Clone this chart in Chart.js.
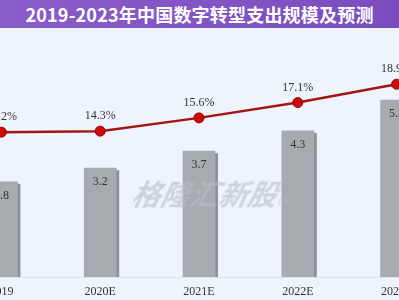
<!DOCTYPE html>
<html>
<head>
<meta charset="utf-8">
<script src="https://cdn.jsdelivr.net/npm/chart.js@4.4.0/dist/chart.umd.min.js"></script>
<style>
  html, body { margin:0; padding:0; }
  body { width:399px; height:300px; overflow:hidden; background:#eef4fb; position:relative; }
  #title { position:absolute; left:0; top:0; width:399px; height:28px; line-height:28px;
    background:linear-gradient(90deg,#8b5dc9,#7b4cbf); color:#fff; text-align:center;
    font-family:"Noto Sans CJK SC","Noto Sans",sans-serif; font-weight:bold; font-size:18px; z-index:3; letter-spacing:0.2px; }
  #wrap { position:absolute; left:-48px; top:0; width:494px; height:300px; }
  #wm { position:absolute; left:133px; top:171px; z-index:2; pointer-events:none;
    font-family:"Noto Sans CJK SC",sans-serif; font-weight:bold; font-style:italic; font-size:29px;
    color:rgba(185,190,197,0.6); white-space:nowrap; transform:skewX(-12deg); }
  #wm span { font-size:9px; font-style:normal; font-weight:normal; margin-left:2px; }
</style>
</head>
<body>
<div id="title">2019-2023年中国数字转型支出规模及预测</div>
<div id="wrap"><canvas id="c"></canvas></div>
<div id="wm">格隆汇新股<span>IPO</span></div>
<script>
const categories = ["2019", "2020E", "2021E", "2022E", "2023E"];
const spending = [2.8, 3.2, 3.7, 4.3, 5.2];
const shareRate = [14.2, 14.3, 15.6, 17.1, 18.9];
const rateLabels = ["14.2%", "14.3%", "15.6%", "17.1%", "18.9%"];

const shadowPlugin = {
  id: 'barShadow',
  beforeDatasetDraw(chart, args) {
    if (args.index !== 0) return;
    const meta = chart.getDatasetMeta(0);
    const ctx = chart.ctx;
    ctx.save();
    ctx.fillStyle = '#8d9095';
    meta.data.forEach(el => {
      const w = el.width;
      ctx.fillRect(el.x - w / 2 + 3, el.y + 2, w, el.base - el.y - 2);
    });
    ctx.restore();
  }
};

const labelPlugin = {
  id: 'valLabels',
  afterDatasetsDraw(chart) {
    const ctx = chart.ctx;
    ctx.save();
    ctx.font = '12px "Liberation Serif", serif';
    ctx.fillStyle = '#333';
    ctx.textAlign = 'center';
    ctx.textBaseline = 'middle';
    chart.getDatasetMeta(0).data.forEach((el, i) => {
      ctx.fillText(spending[i].toFixed(1), el.x, el.y + 14);
    });
    chart.getDatasetMeta(1).data.forEach((el, i) => {
      ctx.fillText(rateLabels[i], el.x, el.y - 15);
    });
    ctx.restore();
  }
};

new Chart(document.getElementById('c'), {
  data: {
    labels: categories,
    datasets: [
      {
        type: 'bar',
        data: spending,
        yAxisID: 'y',
        backgroundColor: '#a7aaaf',
        barThickness: 32,
        order: 1
      },
      {
        type: 'line',
        data: shareRate,
        yAxisID: 'y1',
        borderColor: '#a51414',
        borderWidth: 2.5,
        pointRadius: 5,
        pointBackgroundColor: '#cc0a0a',
        pointBorderColor: '#9a0000',
        pointBorderWidth: 1,
        tension: 0,
        order: 0
      }
    ]
  },
  options: {
    responsive: true,
    maintainAspectRatio: false,
    animation: false,
    layout: { autoPadding: false, padding: { top: 73, bottom: 0, left: 0, right: 0 } },
    plugins: { legend: { display: false }, tooltip: { enabled: false } },
    scales: {
      x: {
        offset: true,
        grid: { display: false, drawTicks: false },
        border: { display: true, color: '#dde3ea', width: 1 },
        ticks: { color: '#333', font: { family: '"Liberation Serif", serif', size: 12 }, padding: 8 },
        afterFit(scale) { scale.height = 23; }
      },
      y: { display: false, min: 0, max: 6 },
      y1: { display: false, min: 0, max: 20 }
    }
  },
  plugins: [shadowPlugin, labelPlugin]
});
</script>
</body>
</html>
